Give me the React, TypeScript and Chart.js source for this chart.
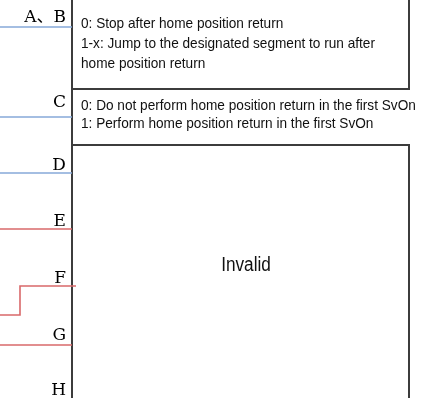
import React, { useEffect, useRef } from "react";
import { Chart, registerables } from "chart.js";

Chart.register(...registerables);

// Diagram space: x = horizontal units (0..425), y = vertical units (0..398, top to bottom)
const xRange = [0, 425];
const yRange = [0, 398];

// Row labels on the left and their baseline levels
const rowLabels = ["A、B", "C", "D", "E", "F", "G", "H"];
const rowLabelLevels = [22, 107, 170, 226, 283, 340, 395];

// Signal traces (x, y in diagram units)
const signalA_B_x = [0, 72];
const signalA_B_y = [27, 27];
const signalC_x = [0, 72];
const signalC_y = [117, 117];
const signalD_x = [0, 72];
const signalD_y = [173, 173];
const signalE_x = [0, 72];
const signalE_y = [229, 229];
const signalF_x = [0, 20, 20, 76];
const signalF_y = [315, 315, 286, 286];
const signalG_x = [0, 72];
const signalG_y = [345, 345];

// Frame lines of the description table
const axisLine_x = [72, 72];
const axisLine_y = [0, 398];
const box1_x = [409, 409, 72];
const box1_y = [0, 89, 89];
const box2_x = [72, 409, 409];
const box2_y = [145, 145, 398];

// Description texts
const box1Lines = [
  "0: Stop after home position return",
  "1-x: Jump to the designated segment to run after",
  "home position return",
];
const box1Levels = [28, 48, 68];
const box2Lines = [
  "0: Do not perform home position return in the first SvOn",
  "1: Perform home position return in the first SvOn",
];
const box2Levels = [110, 128];
const invalidText = "Invalid";
const invalidPos = [246, 271];

const textLeft = 81;
const labelRight = 66;

function pts(xs: number[], ys: number[]) {
  return xs.map((x, i) => ({ x, y: ys[i] }));
}

const BLUE = "#86a8d8";
const RED = "#d9686a";
const DARK = "#3c3c3c";

export default function App() {
  const ref = useRef<HTMLCanvasElement | null>(null);

  useEffect(() => {
    if (!ref.current) return;
    const textPlugin = {
      id: "texts",
      afterDatasetsDraw(chart: any) {
        const ctx = chart.ctx as CanvasRenderingContext2D;
        const xs = chart.scales.x;
        const ys = chart.scales.y;
        const drawScaled = (t: string, px: number, py: number, sx: number, align: CanvasTextAlign) => {
          ctx.save();
          ctx.translate(px, py);
          ctx.scale(sx, 1);
          ctx.textAlign = align;
          ctx.fillText(t, 0, 0);
          ctx.restore();
        };
        ctx.save();
        ctx.textBaseline = "alphabetic";
        // left labels
        ctx.fillStyle = "#000";
        ctx.font = '17px "DejaVu Serif", "Noto Sans CJK SC", serif';
        rowLabels.forEach((t, i) => {
          drawScaled(t, xs.getPixelForValue(labelRight), ys.getPixelForValue(rowLabelLevels[i]), 1, "right");
        });
        // description texts
        ctx.fillStyle = "#111";
        ctx.font = '14.5px "Liberation Sans"';
        box1Lines.forEach((t, i) => {
          drawScaled(t, xs.getPixelForValue(textLeft), ys.getPixelForValue(box1Levels[i]), 0.94, "left");
        });
        box2Lines.forEach((t, i) => {
          drawScaled(t, xs.getPixelForValue(textLeft), ys.getPixelForValue(box2Levels[i]), 0.94, "left");
        });
        ctx.font = '20px "Liberation Sans"';
        drawScaled(invalidText, xs.getPixelForValue(invalidPos[0]), ys.getPixelForValue(invalidPos[1]), 0.86, "center");
        ctx.restore();
      },
    };

    const line = (xs: number[], ys: number[], color: string, width: number) => ({
      data: pts(xs, ys),
      borderColor: color,
      borderWidth: width,
      showLine: true,
      pointRadius: 0,
      fill: false,
      tension: 0,
      clip: false as any,
    });

    const chart = new Chart(ref.current, {
      type: "scatter",
      data: {
        datasets: [
          line(signalA_B_x, signalA_B_y, BLUE, 1.6),
          line(signalC_x, signalC_y, BLUE, 1.6),
          line(signalD_x, signalD_y, BLUE, 1.6),
          line(signalE_x, signalE_y, RED, 1.6),
          line(signalF_x, signalF_y, RED, 1.6),
          line(signalG_x, signalG_y, RED, 1.6),
          line(axisLine_x, axisLine_y, DARK, 2),
          line(box1_x, box1_y, DARK, 2),
          line(box2_x, box2_y, DARK, 2),
        ] as any,
      },
      options: {
        responsive: false,
        animation: false,
        layout: { padding: 0 },
        plugins: { legend: { display: false }, tooltip: { enabled: false } },
        scales: {
          x: { type: "linear", min: xRange[0], max: xRange[1], display: false },
          y: { type: "linear", min: yRange[0], max: yRange[1], reverse: true, display: false },
        },
      },
      plugins: [textPlugin],
    });
    return () => chart.destroy();
  }, []);

  return (
    <div style={{ position: "absolute", left: 0, top: 0, width: 425, height: 398, background: "#fff" }}>
      <canvas ref={ref} width={425} height={398} style={{ width: 425, height: 398, display: "block" }} />
    </div>
  );
}
